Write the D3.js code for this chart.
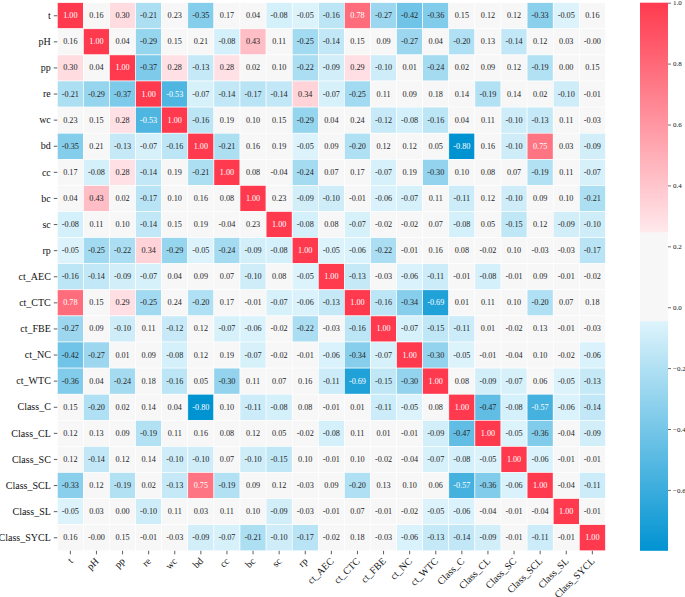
<!DOCTYPE html>
<html>
<head>
<meta charset="utf-8">
<script src="https://cdn.jsdelivr.net/npm/d3@7"></script>
<style>
  html, body { margin: 0; padding: 0; background: #fff; }
  svg { display: block; }
  svg text { font-family: "Liberation Serif", "Times New Roman", Times, "DejaVu Serif", serif !important; }
</style>
</head>
<body>
<svg id="chart" width="685" height="597"></svg>
<script>
const variables = ["t","pH","pp","re","wc","bd","cc","bc","sc","rp","ct_AEC","ct_CTC","ct_FBE","ct_NC","ct_WTC","Class_C","Class_CL","Class_SC","Class_SCL","Class_SL","Class_SYCL"];

const row_t        = [1.00,0.16,0.30,-0.21,0.23,-0.35,0.17,0.04,-0.08,-0.05,-0.16,0.78,-0.27,-0.42,-0.36,0.15,0.12,0.12,-0.33,-0.05,0.16];
const row_pH       = [0.16,1.00,0.04,-0.29,0.15,0.21,-0.08,0.43,0.11,-0.25,-0.14,0.15,0.09,-0.27,0.04,-0.20,0.13,-0.14,0.12,0.03,-0.00];
const row_pp       = [0.30,0.04,1.00,-0.37,0.28,-0.13,0.28,0.02,0.10,-0.22,-0.09,0.29,-0.10,0.01,-0.24,0.02,0.09,0.12,-0.19,0.00,0.15];
const row_re       = [-0.21,-0.29,-0.37,1.00,-0.53,-0.07,-0.14,-0.17,-0.14,0.34,-0.07,-0.25,0.11,0.09,0.18,0.14,-0.19,0.14,0.02,-0.10,-0.01];
const row_wc       = [0.23,0.15,0.28,-0.53,1.00,-0.16,0.19,0.10,0.15,-0.29,0.04,0.24,-0.12,-0.08,-0.16,0.04,0.11,-0.10,-0.13,0.11,-0.03];
const row_bd       = [-0.35,0.21,-0.13,-0.07,-0.16,1.00,-0.21,0.16,0.19,-0.05,0.09,-0.20,0.12,0.12,0.05,-0.80,0.16,-0.10,0.75,0.03,-0.09];
const row_cc       = [0.17,-0.08,0.28,-0.14,0.19,-0.21,1.00,0.08,-0.04,-0.24,0.07,0.17,-0.07,0.19,-0.30,0.10,0.08,0.07,-0.19,0.11,-0.07];
const row_bc       = [0.04,0.43,0.02,-0.17,0.10,0.16,0.08,1.00,0.23,-0.09,-0.10,-0.01,-0.06,-0.07,0.11,-0.11,0.12,-0.10,0.09,0.10,-0.21];
const row_sc       = [-0.08,0.11,0.10,-0.14,0.15,0.19,-0.04,0.23,1.00,-0.08,0.08,-0.07,-0.02,-0.02,0.07,-0.08,0.05,-0.15,0.12,-0.09,-0.10];
const row_rp       = [-0.05,-0.25,-0.22,0.34,-0.29,-0.05,-0.24,-0.09,-0.08,1.00,-0.05,-0.06,-0.22,-0.01,0.16,0.08,-0.02,0.10,-0.03,-0.03,-0.17];
const row_ct_AEC   = [-0.16,-0.14,-0.09,-0.07,0.04,0.09,0.07,-0.10,0.08,-0.05,1.00,-0.13,-0.03,-0.06,-0.11,-0.01,-0.08,-0.01,0.09,-0.01,-0.02];
const row_ct_CTC   = [0.78,0.15,0.29,-0.25,0.24,-0.20,0.17,-0.01,-0.07,-0.06,-0.13,1.00,-0.16,-0.34,-0.69,0.01,0.11,0.10,-0.20,0.07,0.18];
const row_ct_FBE   = [-0.27,0.09,-0.10,0.11,-0.12,0.12,-0.07,-0.06,-0.02,-0.22,-0.03,-0.16,1.00,-0.07,-0.15,-0.11,0.01,-0.02,0.13,-0.01,-0.03];
const row_ct_NC    = [-0.42,-0.27,0.01,0.09,-0.08,0.12,0.19,-0.07,-0.02,-0.01,-0.06,-0.34,-0.07,1.00,-0.30,-0.05,-0.01,-0.04,0.10,-0.02,-0.06];
const row_ct_WTC   = [-0.36,0.04,-0.24,0.18,-0.16,0.05,-0.30,0.11,0.07,0.16,-0.11,-0.69,-0.15,-0.30,1.00,0.08,-0.09,-0.07,0.06,-0.05,-0.13];
const row_Class_C  = [0.15,-0.20,0.02,0.14,0.04,-0.80,0.10,-0.11,-0.08,0.08,-0.01,0.01,-0.11,-0.05,0.08,1.00,-0.47,-0.08,-0.57,-0.06,-0.14];
const row_Class_CL = [0.12,0.13,0.09,-0.19,0.11,0.16,0.08,0.12,0.05,-0.02,-0.08,0.11,0.01,-0.01,-0.09,-0.47,1.00,-0.05,-0.36,-0.04,-0.09];
const row_Class_SC = [0.12,-0.14,0.12,0.14,-0.10,-0.10,0.07,-0.10,-0.15,0.10,-0.01,0.10,-0.02,-0.04,-0.07,-0.08,-0.05,1.00,-0.06,-0.01,-0.01];
const row_Class_SCL= [-0.33,0.12,-0.19,0.02,-0.13,0.75,-0.19,0.09,0.12,-0.03,0.09,-0.20,0.13,0.10,0.06,-0.57,-0.36,-0.06,1.00,-0.04,-0.11];
const row_Class_SL = [-0.05,0.03,0.00,-0.10,0.11,0.03,0.11,0.10,-0.09,-0.03,-0.01,0.07,-0.01,-0.02,-0.05,-0.06,-0.04,-0.01,-0.04,1.00,-0.01];
const row_Class_SYCL=[0.16,-0.00,0.15,-0.01,-0.03,-0.09,-0.07,-0.21,-0.10,-0.17,-0.02,0.18,-0.03,-0.06,-0.13,-0.14,-0.09,-0.01,-0.11,-0.01,1.00];

const matrixRows = [row_t,row_pH,row_pp,row_re,row_wc,row_bd,row_cc,row_bc,row_sc,row_rp,row_ct_AEC,row_ct_CTC,row_ct_FBE,row_ct_NC,row_ct_WTC,row_Class_C,row_Class_CL,row_Class_SC,row_Class_SCL,row_Class_SL,row_Class_SYCL];

const colorbarTicks = [1.0,0.8,0.6,0.4,0.2,0.0,-0.2,-0.4,-0.6];
const vmin = -0.8, vmax = 1.0;

// ---- layout ----
const FONT = "'Liberation Serif', 'Times New Roman', Times, serif";
const svg = d3.select("#chart").attr("font-family", FONT);
const leftX = 57.3, topY = 2.7, cell = 26.1;
const n = variables.length;
const x = d3.scaleBand().domain(variables).range([leftX, leftX + n * cell]);
const y = d3.scaleBand().domain(variables).range([topY, topY + n * cell]);

// colour map: blue -> neutral band -> red
const bandLo = -0.045, bandHi = 0.245;
const neutral = "#f7f7f7";
const blueScale = d3.scaleLinear().domain([vmin, bandLo]).range(["#0093d2", "#def4fc"]).interpolate(d3.interpolateRgb).clamp(true);
const redScale = d3.scaleLinear().domain([bandHi, vmax]).range(["#ffe9ec", "#ff3a4e"]).interpolate(d3.interpolateRgb).clamp(true);
function color(v) {
  if (v < bandLo) return blueScale(v);
  if (v > bandHi) return redScale(v);
  return neutral;
}
function lum(c) {
  const r = d3.rgb(c);
  const f = u => { u /= 255; return u <= 0.03928 ? u / 12.92 : Math.pow((u + 0.055) / 1.055, 2.4); };
  return 0.2126 * f(r.r) + 0.7152 * f(r.g) + 0.0722 * f(r.b);
}
function fmt(v) {
  const neg = v < 0 || Object.is(v, -0);
  return (neg ? "-" : "") + Math.abs(v).toFixed(2);
}

const cells = [];
matrixRows.forEach((row, i) => row.forEach((v, j) => cells.push({r: variables[i], c: variables[j], v})));

const g = svg.append("g");
g.selectAll("rect.cell").data(cells).join("rect")
  .attr("class", "cell")
  .attr("x", d => x(d.c)).attr("y", d => y(d.r))
  .attr("width", x.bandwidth()).attr("height", y.bandwidth())
  .attr("fill", d => color(d.v))
  .attr("stroke", "#ffffff").attr("stroke-width", 0.6);

g.selectAll("text.ann").data(cells).join("text")
  .attr("class", "ann")
  .attr("x", d => x(d.c) + x.bandwidth() / 2)
  .attr("y", d => y(d.r) + y.bandwidth() / 2)
  .attr("text-anchor", "middle").attr("dominant-baseline", "central")
  .attr("font-size", 8.2)
  .attr("fill", d => lum(color(d.v)) > 0.408 ? "#262626" : "#ffffff")
  .text(d => fmt(d.v));

// left axis
const yAxis = d3.axisLeft(y).tickSize(3.5).tickPadding(3);
const ya = svg.append("g").attr("transform", `translate(${leftX},0)`).call(yAxis).attr("font-family", FONT);
ya.select(".domain").remove();
ya.selectAll("text").attr("font-size", 10).attr("fill", "#111");
ya.selectAll("line").attr("stroke", "#333").attr("stroke-width", 0.8);

// bottom axis
const bottomY = topY + n * cell;
const xAxis = d3.axisBottom(x).tickSize(3.5).tickPadding(3);
const xa = svg.append("g").attr("transform", `translate(0,${bottomY})`).call(xAxis).attr("font-family", FONT);
xa.select(".domain").remove();
xa.selectAll("line").attr("stroke", "#333").attr("stroke-width", 0.8);
xa.selectAll("text")
  .attr("font-size", 10).attr("fill", "#111")
  .attr("text-anchor", "end")
  .attr("dy", null).attr("y", null)
  .attr("transform", "translate(3,11) rotate(-45)");

// colour bar
const cbX = 640, cbW = 28;
const cbScale = d3.scaleLinear().domain([vmin, vmax]).range([bottomY, topY]);
const defs = svg.append("defs");
const grad = defs.append("linearGradient").attr("id", "cbgrad").attr("x1", 0).attr("x2", 0).attr("y1", 1).attr("y2", 0);
const stopsN = 180;
for (let k = 0; k <= stopsN; k++) {
  const v = vmin + (vmax - vmin) * k / stopsN;
  grad.append("stop").attr("offset", k / stopsN).attr("stop-color", color(v));
}
svg.append("rect").attr("x", cbX).attr("y", topY).attr("width", cbW).attr("height", bottomY - topY).attr("fill", "url(#cbgrad)");
// neutral band overlay keeps its edges crisp
svg.append("rect").attr("x", cbX).attr("y", cbScale(bandHi)).attr("width", cbW).attr("height", cbScale(bandLo) - cbScale(bandHi)).attr("fill", neutral);

const cbAxis = d3.axisRight(cbScale).tickValues(colorbarTicks).tickSize(3).tickPadding(2).tickFormat(d3.format(".1f"));
const ca = svg.append("g").attr("transform", `translate(${cbX + cbW},0)`).call(cbAxis).attr("font-family", FONT);
ca.select(".domain").remove();
ca.selectAll("line").attr("stroke", "#333").attr("stroke-width", 0.7);
ca.selectAll("text").attr("font-size", 7).attr("fill", "#111");
</script>
</body>
</html>
